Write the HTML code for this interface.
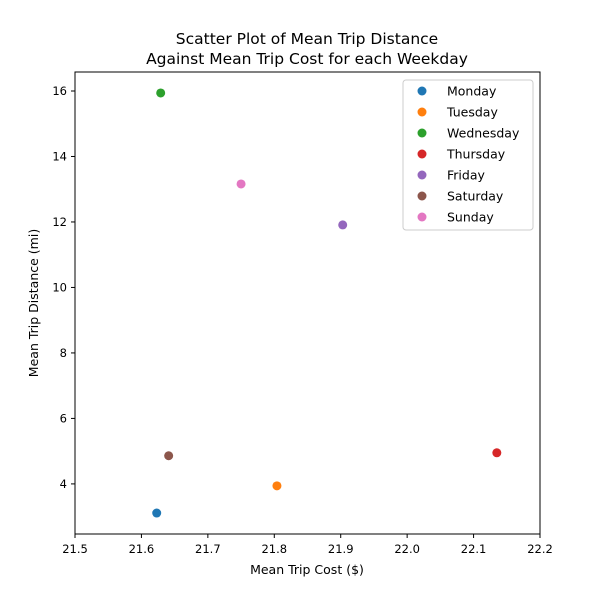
<!DOCTYPE html>
<html><head><meta charset="utf-8"><style>
body{margin:0;background:#fff;}
svg{font-family:"DejaVu Sans","Liberation Sans",sans-serif;}
</style></head><body>
<svg id="chart" width="600" height="600" viewBox="0 0 600 600">
<text x="307" y="44" text-anchor="middle" font-size="15.5">Scatter Plot of Mean Trip Distance</text>
<text x="307" y="64" text-anchor="middle" font-size="15.5">Against Mean Trip Cost for each Weekday</text>
<g id="ticks"></g>
<g id="points"></g>
<rect x="75" y="72" width="465" height="462" fill="none" stroke="#000" stroke-width="1"/>
<text x="307" y="574" text-anchor="middle" font-size="12.5">Mean Trip Cost ($)</text>
<text x="38" y="303" text-anchor="middle" font-size="12.5" transform="rotate(-90 38 303)">Mean Trip Distance (mi)</text>
<g id="legend"></g>
</svg>
<script>
const days=["Monday","Tuesday","Wednesday","Thursday","Friday","Saturday","Sunday"];
const costs=[21.623,21.804,21.629,22.135,21.903,21.641,21.750];
const distances=[3.11,3.94,15.94,4.95,11.91,4.86,13.16];
const colors=["#1f77b4","#ff7f0e","#2ca02c","#d62728","#9467bd","#8c564b","#e377c2"];
const xTicks=[21.5,21.6,21.7,21.8,21.9,22.0,22.1,22.2];
const yTicks=[4,6,8,10,12,14,16];
const X0=21.5,X1=22.2,Y0=2.47,Y1=16.58;
const L=75,R=540,T=72,B=534;
const sx=v=>L+(v-X0)/(X1-X0)*(R-L);
const sy=v=>B-(v-Y0)/(Y1-Y0)*(B-T);
const NS="http://www.w3.org/2000/svg";
const tg=document.getElementById('ticks');
function mk(tag,attrs,parent){const e=document.createElementNS(NS,tag);for(const k in attrs)e.setAttribute(k,attrs[k]);parent.appendChild(e);return e;}
xTicks.forEach(v=>{
  const l=mk('line',{x1:sx(v),x2:sx(v),y1:B,y2:B+4,stroke:'#000'},tg);
  
  
  const t=mk('text',{x:sx(v),y:B+19,'text-anchor':'middle','font-size':11.5},tg);
  t.textContent=v.toFixed(1);
  
  
});
yTicks.forEach(v=>{
  const l=mk('line',{x1:L-4,x2:L,y1:sy(v),y2:sy(v),stroke:'#000'},tg);
  
  
  const t=mk('text',{x:L-8,y:sy(v)+4,'text-anchor':'end','font-size':11.5},tg);
  t.textContent=v;
  
  
});
const pg=document.getElementById('points');
days.forEach((d,i)=>{
  const c=mk('circle',{cx:sx(costs[i]),cy:sy(distances[i]),r:4.5,fill:colors[i]},pg);
  
  
});
const lg=document.getElementById('legend');
const box=mk('rect',{x:403,y:80,width:130,height:150,rx:3,fill:'#fff',stroke:'#ccc'},lg);


days.forEach((d,i)=>{
  const y=91+i*21;
  const c=mk('circle',{cx:422,cy:y,r:4.5,fill:colors[i]},lg);
  
  
  const t=mk('text',{x:447,y:y+4.5,'font-size':12.5},lg);
  t.textContent=d;
  
  
});
</script>
</body></html>
